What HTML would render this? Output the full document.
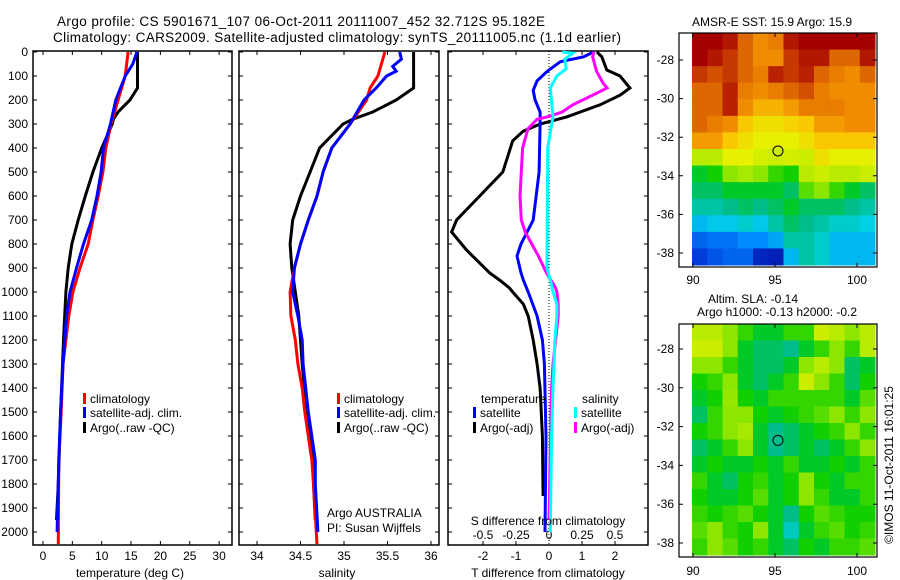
<!DOCTYPE html>
<html><head><meta charset="utf-8"><style>
html,body{margin:0;padding:0;background:#fff;}
svg{display:block;font-family:"Liberation Sans",sans-serif;}
</style></head><body>
<svg id="fig" width="900" height="580" viewBox="0 0 900 580" xmlns="http://www.w3.org/2000/svg">
<text x="57" y="26" font-size="13.5" textLength="488">Argo profile: CS 5901671_107 06-Oct-2011 20111007_452 32.712S 95.182E</text>
<text x="53" y="42" font-size="13.5" textLength="568">Climatology: CARS2009. Satellite-adjusted climatology: synTS_20111005.nc (1.1d earlier)</text>
<g id="g1"></g>
<g id="g2"></g>
<g id="g3"></g>
<g id="m1"></g>
<g id="m2"></g>
<text x="772" y="26" font-size="12" text-anchor="middle">AMSR-E SST: 15.9 Argo: 15.9</text>
<text x="753" y="303" font-size="12" text-anchor="middle">Altim. SLA: -0.14</text>
<text x="777" y="316" font-size="12" text-anchor="middle">Argo h1000: -0.13 h2000: -0.2</text>
<text transform="translate(893,465) rotate(-90)" font-size="12" text-anchor="middle">©IMOS 11-Oct-2011 16:01:25</text>
</svg>
<script>
// ---- data ----
const pressureTicks = [0,100,200,300,400,500,600,700,800,900,1000,1100,1200,1300,1400,1500,1600,1700,1800,1900,2000];
const tempTicks = [0,5,10,15,20,25,30];
const salTicks = [34,34.5,35,35.5,36];
const salTickLabels = ["34","34.5","35","35.5","36"];
const dTTicks = [-2,-1,0,1,2];
const dSTicks = [-0.5,-0.25,0,0.25,0.5];
const dSTickLabels = ["-0.5","-0.25","0","0.25","0.5"];

const tClimP = [0,100,200,300,400,500,600,700,800,900,1000,1100,1300,1500,1700,2050];
const tClimV = [14.5,14,12.8,11.6,10.7,10.2,9.4,8.5,7.7,6.3,5.1,4.4,3.4,3.1,2.7,2.6];
const tSatP = [0,50,100,200,300,400,500,600,700,800,900,1000,1100,1300,1500,1700,2000];
const tSatV = [16,15.3,14,12.4,11.5,10.3,9.9,9.2,8.3,6.9,5.7,4.6,4,3.4,3,2.7,2.4];
const tArgoP = [0,150,200,250,280,300,400,500,600,700,800,900,1000,1100,1200,1500,1800,1950];
const tArgoV = [16.1,16.1,14.8,12.8,12,11.8,10,8.5,7.2,6,4.9,4.3,3.9,3.7,3.5,3,2.6,2.3];

const sClimP = [0,100,150,200,300,400,500,600,700,800,900,1000,1100,1200,1300,1400,1500,1600,1700,1800,2050];
const sClimV = [35.47,35.39,35.3,35.26,35.07,34.86,34.76,34.69,34.59,34.5,34.43,34.38,34.39,34.44,34.47,34.52,34.55,34.59,34.63,34.65,34.69];
const sSatP = [0,30,60,80,100,150,200,300,400,500,600,700,800,900,1000,1100,1200,1300,1500,1700,1800,2000];
const sSatV = [35.64,35.66,35.56,35.6,35.49,35.37,35.23,35.07,34.86,34.76,34.69,34.59,34.5,34.43,34.41,34.47,34.52,34.53,34.59,34.67,34.67,34.7];
const sArgoP = [0,150,200,250,280,300,400,500,600,700,800,900,1000,1100,1200,1300,1500,1700,1800,1950];
const sArgoV = [35.8,35.8,35.6,35.33,35.1,34.99,34.72,34.61,34.5,34.41,34.38,34.4,34.44,34.48,34.5,34.52,34.57,34.64,34.65,34.67];

const dTSatP = [0,20,40,80,120,160,200,250,300,500,700,800,850,920,950,1000,1100,1200,1300,1600,2000];
const dTSatV = [1.35,1.05,0.35,-0.05,-0.36,-0.48,-0.42,-0.27,-0.27,-0.3,-0.48,-0.85,-0.97,-0.85,-0.78,-0.63,-0.36,-0.2,-0.14,-0.09,-0.12];
const dTArgoP = [0,20,75,100,150,180,220,270,300,330,370,500,600,700,750,825,920,950,983,1000,1050,1100,1200,1300,1400,1600,1850];
const dTArgoV = [1.45,1.6,1.75,2.15,2.45,2.15,1.55,0.55,-0.27,-0.78,-1.1,-1.4,-2.1,-2.8,-2.95,-2.5,-1.8,-1.5,-1.2,-1.1,-0.78,-0.63,-0.48,-0.36,-0.27,-0.2,-0.18];
const dSSatP = [0,5,30,70,100,150,270,400,900,950,1000,1050,1100,1200,1400,1600,2000];
const dSSatV = [0.1,0.18,0.12,0.13,0.06,0.01,0.03,-0.01,-0.015,0.01,0.03,0.06,0.06,0.045,0.03,0.02,0.01];
const dSArgoP = [0,20,80,130,150,180,220,250,270,280,320,400,500,600,700,750,800,850,920,983,1000,1050,1100,1200,1300,1400,1500,1950];
const dSArgoV = [0.34,0.33,0.36,0.41,0.44,0.33,0.18,0.1,-0.01,-0.09,-0.16,-0.2,-0.21,-0.22,-0.21,-0.18,-0.13,-0.08,-0.02,0.05,0.06,0.07,0.07,0.05,0.03,0.02,0.015,0.0];

const latTicks = [-28,-30,-32,-34,-36,-38];
const lonTicks = [90,95,100];
const sstGrid = [
[0.95,0.95,0.93,0.85,0.8,0.82,0.93,0.95,0.95,0.95,0.95,0.95],
[0.95,0.93,0.9,0.85,0.8,0.8,0.9,0.93,0.93,0.85,0.85,0.93],
[0.9,0.88,0.9,0.85,0.82,0.92,0.9,0.92,0.85,0.82,0.8,0.85],
[0.85,0.85,0.92,0.82,0.8,0.82,0.85,0.88,0.82,0.8,0.8,0.8],
[0.85,0.85,0.92,0.8,0.75,0.75,0.78,0.82,0.82,0.82,0.8,0.8],
[0.85,0.82,0.8,0.72,0.68,0.68,0.7,0.72,0.78,0.78,0.8,0.8],
[0.78,0.78,0.72,0.68,0.65,0.65,0.65,0.68,0.72,0.72,0.72,0.72],
[0.6,0.6,0.65,0.65,0.63,0.62,0.63,0.62,0.68,0.65,0.65,0.65],
[0.45,0.48,0.55,0.58,0.55,0.5,0.48,0.6,0.62,0.6,0.6,0.62],
[0.42,0.42,0.45,0.45,0.45,0.45,0.42,0.52,0.55,0.5,0.45,0.42],
[0.38,0.38,0.4,0.42,0.4,0.42,0.45,0.42,0.42,0.42,0.4,0.38],
[0.3,0.32,0.32,0.35,0.32,0.38,0.42,0.4,0.38,0.35,0.35,0.33],
[0.2,0.22,0.22,0.25,0.25,0.28,0.38,0.38,0.35,0.3,0.3,0.3],
[0.15,0.18,0.2,0.2,0.1,0.08,0.3,0.38,0.35,0.3,0.3,0.3]];
const slaGrid = [
[0.6,0.6,0.55,0.5,0.45,0.45,0.5,0.5,0.62,0.6,0.55,0.6],
[0.62,0.62,0.55,0.45,0.42,0.42,0.4,0.45,0.5,0.55,0.5,0.6],
[0.55,0.55,0.5,0.45,0.42,0.42,0.45,0.55,0.6,0.55,0.42,0.45],
[0.48,0.5,0.55,0.45,0.42,0.45,0.5,0.62,0.55,0.5,0.42,0.48],
[0.45,0.48,0.56,0.48,0.45,0.5,0.5,0.5,0.5,0.5,0.45,0.52],
[0.42,0.5,0.55,0.55,0.48,0.45,0.48,0.5,0.52,0.55,0.5,0.55],
[0.48,0.5,0.55,0.58,0.45,0.4,0.42,0.45,0.48,0.5,0.55,0.5],
[0.42,0.45,0.5,0.55,0.45,0.4,0.42,0.45,0.42,0.45,0.5,0.55],
[0.45,0.48,0.45,0.45,0.48,0.45,0.5,0.45,0.45,0.48,0.45,0.5],
[0.5,0.45,0.42,0.48,0.5,0.45,0.48,0.55,0.48,0.45,0.5,0.5],
[0.48,0.45,0.45,0.48,0.52,0.45,0.48,0.55,0.5,0.45,0.45,0.5],
[0.5,0.48,0.5,0.52,0.48,0.45,0.4,0.48,0.52,0.5,0.48,0.48],
[0.52,0.55,0.5,0.48,0.55,0.45,0.36,0.45,0.5,0.52,0.48,0.5],
[0.5,0.55,0.52,0.48,0.5,0.45,0.42,0.48,0.45,0.5,0.5,0.52]];
const argoLon = 95.182, argoLat = -32.712;

// ---- helpers ----
const NS="http://www.w3.org/2000/svg";
function mk(tag, parent, attrs){const e=document.createElementNS(NS,tag);for(const k in attrs)e.setAttribute(k,attrs[k]);parent.appendChild(e);return e;}
const yP = p => 52 + p*0.24;
const TOP=51, BOT=545;
const xT = v => 43 + v*5.87;
const xS = v => 257 + (v-34)*87;
const xdT = v => 549 + v*33;
const xdS = v => 549 + v*132;

function frame(g,x0,x1,name){
  const r=mk('rect',g,{x:x0,y:TOP,width:x1-x0,height:BOT-TOP,fill:'none',stroke:'#000','stroke-width':1.5});
  
  pressureTicks.forEach(p=>{
    const y=yP(p);
    const t=mk('path',g,{d:`M${x0},${y}h4M${x1},${y}h-4`,stroke:'#000','stroke-width':1});
    
  });
}
function xticks(g,list,fx,labels,ly){
  list.forEach((v,i)=>{
    const x=fx(v);
    const t=mk('path',g,{d:`M${x},${TOP}v4M${x},${BOT}v-4`,stroke:'#000','stroke-width':1});
    
    if(labels){const l=mk('text',g,{x:x,y:ly,'font-size':12,'text-anchor':'middle'});l.textContent=labels[i];
    }
  });
}
function line(g,P,V,fx,color,name){
  const d=P.map((p,i)=>(i?'L':'M')+fx(V[i]).toFixed(1)+','+yP(p).toFixed(1)).join('');
  const e=mk('path',g,{d:d,fill:'none',stroke:color,'stroke-width':3,'stroke-linejoin':'miter'});
  
}
function txt(g,x,y,s,name,anchor){const t=mk('text',g,{x:x,y:y,'font-size':12,'text-anchor':anchor||'start'});t.textContent=s;
  return t;}
function legend(g,x,y,color,label,name){
  const r=mk('rect',g,{x:x,y:y-6,width:3,height:11,fill:color});
  
  txt(g,x+7,y+4,label,name);
}

// ---- panel 1 ----
const g1=document.getElementById('g1');
frame(g1,33,232,'temperature-panel');
pressureTicks.forEach(p=>txt(g1,28,yP(p)+4,String(p),'pressure-tick-label','end'));
xticks(g1,tempTicks,xT,tempTicks.map(String),560);
line(g1,tArgoP,tArgoV,xT,'#000','argo-temperature-line');
line(g1,tClimP,tClimV,xT,'#f00','climatology-temperature-line');
line(g1,tSatP,tSatV,xT,'#00f','satellite-temperature-line');
txt(g1,130,577,'temperature (deg C)','temperature-axis-title','middle');
legend(g1,83,399,'#f00','climatology','legend-climatology');
legend(g1,83,413,'#00f','satellite-adj. clim.','legend-satellite');
legend(g1,83,428,'#000','Argo(..raw -QC)','legend-argo');

// ---- panel 2 ----
const g2=document.getElementById('g2');
frame(g2,239,439,'salinity-panel');
xticks(g2,salTicks,xS,salTickLabels,560);
line(g2,sArgoP,sArgoV,xS,'#000','argo-salinity-line');
line(g2,sClimP,sClimV,xS,'#f00','climatology-salinity-line');
line(g2,sSatP,sSatV,xS,'#00f','satellite-salinity-line');
txt(g2,337,577,'salinity','salinity-axis-title','middle');
legend(g2,337,399,'#f00','climatology','legend-climatology');
legend(g2,337,413,'#00f','satellite-adj. clim.','legend-satellite');
legend(g2,337,428,'#000','Argo(..raw -QC)','legend-argo');
txt(g2,327,517,'Argo AUSTRALIA','float-agency');
txt(g2,327,532,'PI: Susan Wijffels','float-pi');

// ---- panel 3 ----
const g3=document.getElementById('g3');
frame(g3,448,648,'difference-panel');
xticks(g3,dTTicks.filter(v=>v!==0),xdT,null,0);
const zl=mk('line',g3,{x1:549,x2:549,y1:TOP,y2:BOT,stroke:'#000','stroke-width':1,'stroke-dasharray':'1,2'});

dTTicks.forEach(v=>txt(g3,xdT(v),560,String(v),'t-diff-tick-label','middle'));
dSTicks.forEach((v,i)=>txt(g3,xdS(v),539,dSTickLabels[i],'s-diff-tick-label','middle'));
line(g3,dTArgoP,dTArgoV,xdT,'#000','argo-t-diff-line');
line(g3,dTSatP,dTSatV,xdT,'#00f','satellite-t-diff-line');
line(g3,dSArgoP,dSArgoV,xdS,'#f0f','argo-s-diff-line');
line(g3,dSSatP,dSSatV,xdS,'#0ff','satellite-s-diff-line');
txt(g3,548,525,'S difference from climatology','s-diff-axis-title','middle');
txt(g3,548,577,'T difference from climatology','t-diff-axis-title','middle');
txt(g3,481,403,'temperature','legend-temperature-heading');
legend(g3,473,413,'#00f','satellite','legend-t-satellite');
legend(g3,473,428,'#000','Argo(-adj)','legend-t-argo');
txt(g3,582,403,'salinity','legend-salinity-heading');
legend(g3,574,413,'#0ff','satellite','legend-s-satellite');
legend(g3,574,428,'#f0f','Argo(-adj)','legend-s-argo');

// ---- maps ----
const cmapStops=[[0,[0,0,140]],[0.15,[0,60,220]],[0.25,[0,140,255]],[0.33,[0,210,230]],[0.4,[0,190,140]],[0.47,[0,205,0]],[0.55,[140,230,0]],[0.65,[230,240,0]],[0.72,[250,200,0]],[0.8,[240,140,0]],[0.88,[210,80,0]],[0.95,[165,0,0]],[1,[140,0,0]]];
function cmap(v){
  v=Math.max(0,Math.min(1,v));
  for(let i=1;i<cmapStops.length;i++){
    const [a,ca]=cmapStops[i-1],[b,cb]=cmapStops[i];
    if(v<=b){const t=(v-a)/(b-a);return `rgb(${ca.map((c,k)=>Math.round(c+(cb[k]-c)*t)).join(',')})`;}
  }
  return 'rgb(140,0,0)';
}
function drawMap(g,grid,top,bot,lat28,lat38,lblY,name){
  const x0=692,x1=875,y0=top,y1=bot-2;
  const rows=grid.length, cols=grid[0].length;
  const cw=(x1-x0)/cols, ch=(y1-y0)/rows;
  grid.forEach((row,ri)=>row.forEach((v,ci)=>{
    const r=mk('rect',g,{x:(x0+ci*cw).toFixed(2),y:(y0+ri*ch).toFixed(2),width:(cw+0.5).toFixed(2),height:(ch+0.5).toFixed(2),fill:cmap(v)});
    
  }));
  const f=mk('rect',g,{x:679,y:top,width:198,height:bot-top,fill:'none',stroke:'#000','stroke-width':1.2});
  
  const yL=lat=>lat28+(-28-lat)*(lat38-lat28)/10;
  const xL=lon=>693+(lon-90)*16.4;
  latTicks.forEach(l=>{
    const y=yL(l);
    const t=mk('path',g,{d:`M679,${y}h4M877,${y}h-4`,stroke:'#000','stroke-width':1});
    
    txt(g,674,y+4,String(l),'lat-tick-label','end');
  });
  lonTicks.forEach(l=>{
    const x=xL(l);
    const t=mk('path',g,{d:`M${x},${top}v4M${x},${bot}v-4`,stroke:'#000','stroke-width':1});
    
    txt(g,x,lblY,String(l),'lon-tick-label','middle');
  });
  const c=mk('circle',g,{cx:xL(argoLon),cy:yL(argoLat),r:5,fill:'none',stroke:'#000','stroke-width':1});
  
}
drawMap(document.getElementById('m1'),sstGrid,33,267,60,253,284,'sst-map');
drawMap(document.getElementById('m2'),slaGrid,324,557,349,543,575,'sla-map');
</script>
</body></html>
